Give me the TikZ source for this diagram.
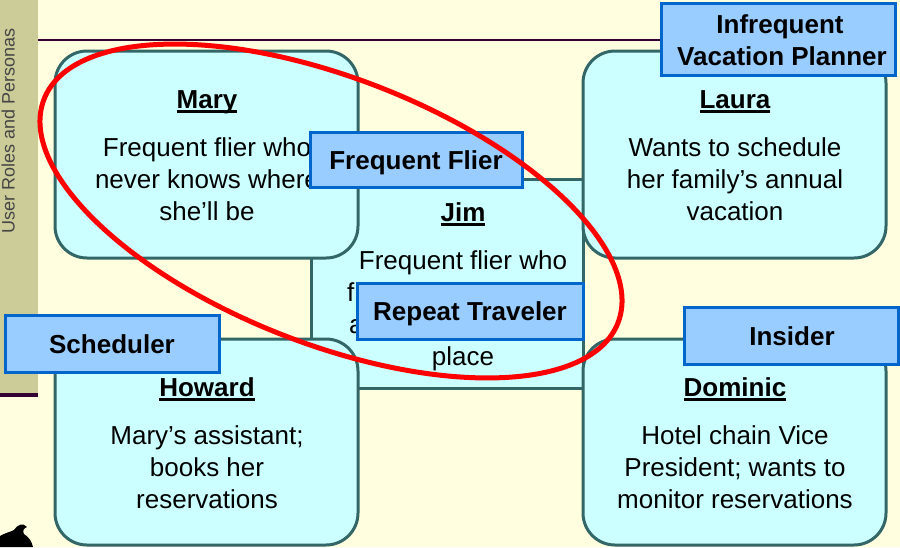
\documentclass[tikz,border=0pt]{standalone}
\usepackage{fontspec}
\setmainfont{Liberation Sans}
\usetikzlibrary{shapes.geometric}

\definecolor{pagebg}{HTML}{FFFFE0}
\definecolor{sidebar}{HTML}{CCCC99}
\definecolor{rulecol}{HTML}{330033}
\definecolor{cardfill}{HTML}{CCFFFF}
\definecolor{carddraw}{HTML}{336666}
\definecolor{tagfill}{HTML}{99CCFF}
\definecolor{tagdraw}{HTML}{0066CC}
\definecolor{sidetext}{HTML}{454545}

% underlined persona name: rule runs through descenders like a slide underline
\newcommand\ulname[1]{\setbox0\hbox{#1}\rlap{\rule[-4.6pt]{\wd0}{2.3pt}}\box0}

\tikzset{
  card/.style={draw=carddraw, fill=cardfill, line width=3pt, rounded corners=32pt, inner sep=0pt},
  sharpcard/.style={card, rounded corners=0pt},
  tagbox/.style={draw=tagdraw, fill=tagfill, line width=3pt, inner sep=0pt},
  bodytext/.style={anchor=base, inner sep=0pt, font=\fontsize{26}{32}\selectfont},
  nametext/.style={anchor=base, inner sep=0pt, font=\fontsize{26}{32}\selectfont\bfseries},
  tagtext/.style={anchor=base, inner sep=0pt, font=\fontsize{26}{32}\selectfont\bfseries},
  ring/.style={draw=red, line width=5pt, ellipse, inner sep=0pt}
}

\begin{document}
\begin{tikzpicture}[x=1pt, y=-1pt]
  \useasboundingbox (0,0) rectangle (900,547);
  \fill[pagebg] (0,0) rectangle (900,547);

  % slide side bar with its title and the two rules
  \fill[sidebar] (0,0) rectangle (38,393);
  \fill[rulecol] (0,393) rectangle (38,397);
  \node[rotate=90, anchor=base west, inner sep=0pt, text=sidetext,
        font=\fontsize{18}{20}\selectfont] (sidetitle) at (14.5,234) {User Roles and Personas};
  \coordinate (ruleA) at (38,40);
  \coordinate (ruleB) at (661,40);
  \draw[rulecol, line width=2pt] (ruleA) -- (ruleB);

  % persona cards (Jim sits underneath the four corner cards)
  \node[sharpcard, minimum width=272pt, minimum height=209pt] (jim)     at (447,283.5) {};
  \node[card, minimum width=303pt, minimum height=207pt]      (mary)    at (206.5,154.5) {};
  \node[card, minimum width=303pt, minimum height=207pt]      (laura)   at (734.5,154.5) {};
  \node[card, minimum width=303pt, minimum height=206pt]      (howard)  at (206.5,442) {};
  \node[card, minimum width=303pt, minimum height=206pt]      (dominic) at (734.5,442) {};

  % Mary
  \node[nametext] (maryname) at (207,108) {\ulname{Mary}};
  \node[bodytext] (mary1) at (207,156) {Frequent flier who};
  \node[bodytext] (mary2) at (207,188) {never knows where};
  \node[bodytext] (mary3) at (207,220) {she’ll be};

  % Laura
  \node[nametext] (lauraname) at (735,108) {\ulname{Laura}};
  \node[bodytext] (laura1) at (735,156) {Wants to schedule};
  \node[bodytext] (laura2) at (735,188) {her family’s annual};
  \node[bodytext] (laura3) at (735,220) {vacation};

  % Jim (the middle lines only show their first letters beside the tag)
  \node[nametext] (jimname) at (463,221) {\ulname{Jim}};
  \node[bodytext] (jim1) at (463,269) {Frequent flier who};
  \node[bodytext, anchor=base west] (jim2) at (347,301) {fl};
  \node[bodytext, anchor=base west] (jim3) at (349,333) {a};
  \node[bodytext] (jim4) at (463,365) {place};

  % Howard
  \node[nametext] (howardname) at (207,396) {\ulname{Howard}};
  \node[bodytext] (howard1) at (207,444) {Mary’s assistant;};
  \node[bodytext] (howard2) at (207,476) {books her};
  \node[bodytext] (howard3) at (207,508) {reservations};

  % Dominic
  \node[nametext] (dominicname) at (735,396) {\ulname{Dominic}};
  \node[bodytext] (dominic1) at (735,444) {Hotel chain Vice};
  \node[bodytext] (dominic2) at (735,476) {President; wants to};
  \node[bodytext] (dominic3) at (735,508) {monitor reservations};

  % role tags
  \node[tagbox, minimum width=212pt, minimum height=55pt] (tagflier) at (416,159.5) {};
  \node[tagtext] (tagfliertxt) at (416,169) {Frequent Flier};

  \node[tagbox, minimum width=226pt, minimum height=56pt] (tagrepeat) at (470,311) {};
  \node[tagtext] (tagrepeattxt) at (470,320.5) {Repeat Traveler};

  \node[tagbox, minimum width=214pt, minimum height=57pt] (tagsched) at (112,343.5) {};
  \node[tagtext] (tagschedtxt) at (112,353) {Scheduler};

  \node[tagbox, minimum width=214pt, minimum height=57pt] (taginsider) at (791,335.5) {};
  \node[tagtext] (taginsidertxt) at (792,345) {Insider};

  \node[tagbox, minimum width=234pt, minimum height=72pt] (tagvac) at (778,39) {};
  \node[tagtext] (tagvac1) at (780,33) {Infrequent};
  \node[tagtext] (tagvac2) at (782,65) {Vacation Planner};

  % red ring grouping the two frequent fliers
  \node[ring, minimum width=616pt, minimum height=266pt, rotate=-21.3] (ring) at (331,211) {};

  % corner logo fragment
  \fill[black] (0,547) -- (0,536) .. controls (5,533) and (10,532) .. (14,530)
    .. controls (17,525) and (23,522) .. (27,527)
    .. controls (24,528) and (22,531) .. (24,534)
    .. controls (29,537) and (32,542) .. (33,547) -- cycle;
\end{tikzpicture}
\end{document}
